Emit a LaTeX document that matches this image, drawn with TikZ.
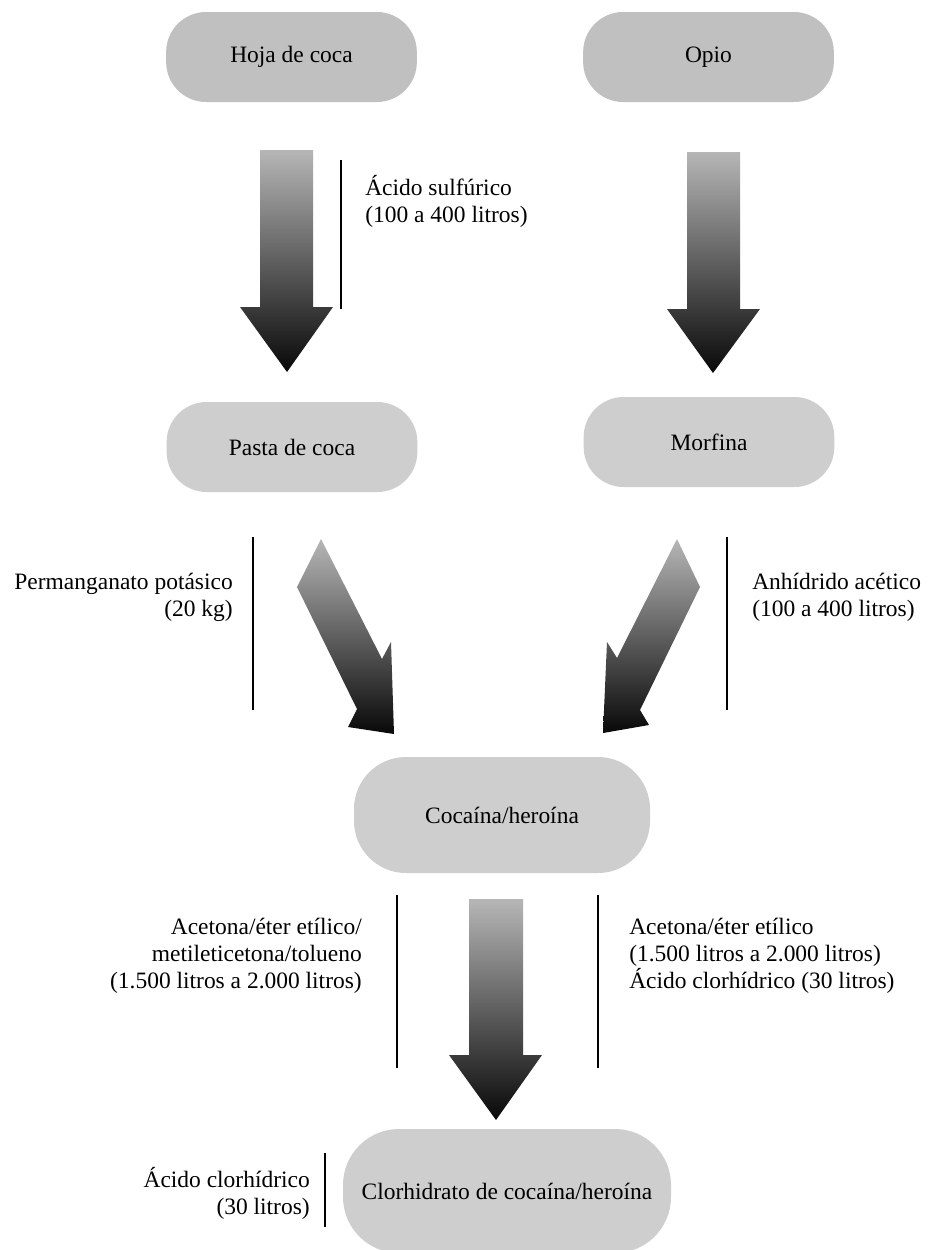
\documentclass[tikz,border=0pt]{standalone}
\usepackage{fontspec}
\setmainfont{Liberation Serif}
\definecolor{boxtop}{RGB}{192,192,192}
\definecolor{boxlow}{RGB}{206,206,206}
\definecolor{arrtop}{RGB}{182,182,182}
\definecolor{arrbot}{RGB}{8,8,8}
\newcommand{\diagfont}{\fontsize{17.6pt}{20.25pt}\selectfont}
\tikzset{
  stage/.style={fill=boxlow, rounded corners=30pt, minimum width=188pt,
    minimum height=67.5pt, inner sep=0pt, font=\diagfont},
  stagetop/.style={stage, fill=boxtop},
  note/.style={inner sep=0pt, font=\diagfont},
  bracket/.style={line width=1.2pt, black},
  blockarrow/.style={top color=arrtop, bottom color=arrbot, draw=none},
}
\begin{document}
\begin{tikzpicture}[x={(0.75pt,0)}, y={(0,-0.75pt)}]
\path[use as bounding box, fill=white] (0,0) rectangle (937,1250);
\begin{scope}
\clip (0,0) rectangle (937,1250);
% stages
\node[stagetop] (hoja) at (291.5,57) {Hoja de coca};
\node[stagetop] (opio) at (708.5,57) {Opio};
\node[stage] (pasta) at (292,447) {Pasta de coca};
\node[stage] (morfina) at (709,442) {Morfina};
\node[stage, minimum width=222pt, minimum height=87pt, rounded corners=39pt] (coca) at (502,815) {Cocaína/heroína};
\node[stage, minimum width=246pt, minimum height=93pt, rounded corners=42pt] (clor) at (507,1191) {Clorhidrato de cocaína/heroína};
\end{scope}
% block arrows
\shade[blockarrow] (260,150) -- (313,150) -- (313,307) -- (333,307) -- (287,372) -- (240,307) -- (260,307) -- cycle;
\shade[blockarrow] (687,152) -- (740,152) -- (740,309) -- (760,309) -- (713,373) -- (667,309) -- (687,309) -- cycle;
\shade[blockarrow] (469,899) -- (523,899) -- (523,1055) -- (542,1055) -- (496,1120) -- (449,1055) -- (469,1055) -- cycle;
\shade[blockarrow] (321,539) -- (382,659) -- (391,642) -- (394,734) -- (348,727) -- (357,709) -- (297,587) -- cycle;
\shade[blockarrow] (677,539) -- (700,587) -- (640,710) -- (649,725) -- (603,733) -- (607,642) -- (617,658) -- cycle;
% brackets
\draw[bracket] (341,160) -- (341,309);
\draw[bracket] (253,537) -- (253,710);
\draw[bracket] (727,537) -- (727,710);
\draw[bracket] (397,895) -- (397,1068);
\draw[bracket] (598,895) -- (598,1068);
\draw[bracket] (325,1153) -- (325,1227);
% notes
\node[note, anchor=west, align=left] (sulf) at (365,201) {Ácido sulfúrico\\(100 a 400 litros)};
\node[note, anchor=east, align=right] (perm) at (233,597) {Permanganato potásico\\(20 kg)};
\node[note, anchor=west, align=left] (anh) at (752,597) {Anhídrido acético\\(100 a 400 litros)};
\node[note, anchor=east, align=right] (solvl) at (362,956) {Acetona/éter etílico/\\metileticetona/tolueno\\(1.500 litros a 2.000 litros)};
\node[note, anchor=west, align=left] (solvr) at (629,956) {Acetona/éter etílico\\(1.500 litros a 2.000 litros)\\Ácido clorhídrico (30 litros)};
\node[note, anchor=east, align=right] (hcl) at (310,1193) {Ácido clorhídrico\\(30 litros)};
\end{tikzpicture}
\end{document}
